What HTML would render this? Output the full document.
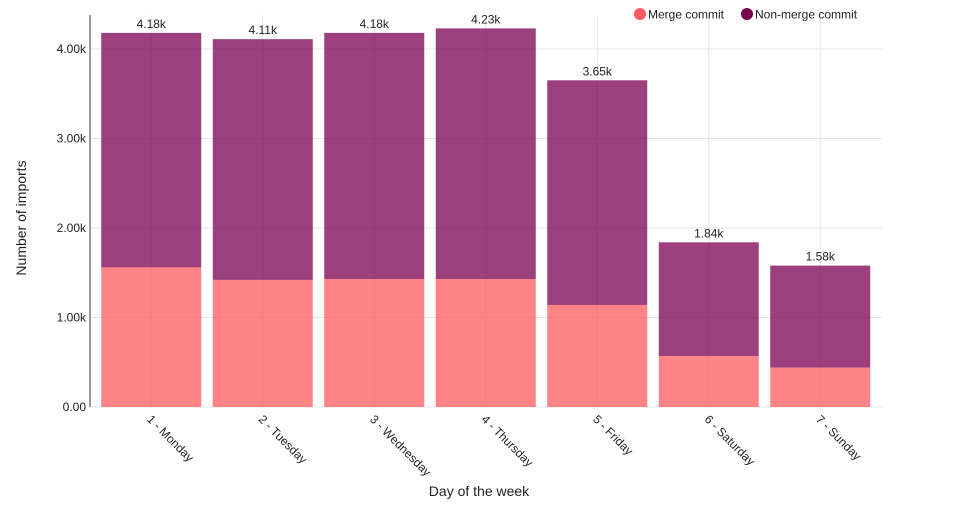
<!DOCTYPE html>
<html><head><meta charset="utf-8"><style>
body{margin:0;background:#fff;font-family:"Liberation Sans",sans-serif;}
text{font-family:"Liberation Sans",sans-serif;}
</style></head><body>
<svg width="972" height="505" xmlns="http://www.w3.org/2000/svg">
<g id="grid"></g>
<g id="bars"></g>
<g id="axes"></g>
<text x="479" y="496" text-anchor="middle" font-size="14" fill="#222">Day of the week</text>
<text transform="translate(26,218) rotate(-90)" text-anchor="middle" font-size="14" fill="#222">Number of imports</text>
<g>
<g><circle cx="640" cy="14" r="6" fill="#ff5a5f"/><text x="648" y="18.5" font-size="12" fill="#222">Merge commit</text></g>
<g><circle cx="747" cy="14" r="6" fill="#7a0050"/><text x="755" y="18.5" font-size="12" fill="#222">Non-merge commit</text></g>
</g>
</svg>
<script>
const categories=["1 - Monday","2 - Tuesday","3 - Wednesday","4 - Thursday","5 - Friday","6 - Saturday","7 - Sunday"];
const mergeValues=[1560,1420,1430,1430,1140,570,440];
const totalValues=[4180,4110,4180,4230,3650,1840,1580];
const totalLabels=["4.18k","4.11k","4.18k","4.23k","3.65k","1.84k","1.58k"];
const yTicks=[0,1000,2000,3000,4000];
const yTickLabels=["0.00","1.00k","2.00k","3.00k","4.00k"];
const NS="http://www.w3.org/2000/svg";
const x0=95.5,step=111.5,barW=100;
function xc(i){return x0+step*(i+0.5);}
function y(v){return 407-v*0.0895;}
function mk(tag,attrs,parent){const e=document.createElementNS(NS,tag);for(const k in attrs)e.setAttribute(k,attrs[k]);parent.appendChild(e);return e;}
const grid=document.getElementById('grid'),bars=document.getElementById('bars'),axes=document.getElementById('axes');
yTicks.forEach((t,i)=>{
 const l=mk('line',{x1:90,x2:882,y1:y(t),y2:y(t),stroke:'#e6e6e6'},grid);
 
 
 const tx=mk('text',{x:86,y:y(t)+4,'text-anchor':'end','font-size':12,fill:'#222'},axes);
 tx.textContent=yTickLabels[i];
 
 
});
categories.forEach((c,i)=>{
 const g=mk('line',{x1:xc(i),x2:xc(i),y1:15,y2:407,stroke:'#e6e6e6'},grid);
 
 
 const nm=mk('rect',{x:xc(i)-barW/2,y:y(totalValues[i]),width:barW,height:y(mergeValues[i])-y(totalValues[i]),fill:'#7a0050','fill-opacity':0.75},bars);
 
 
 const m=mk('rect',{x:xc(i)-barW/2,y:y(mergeValues[i]),width:barW,height:407-y(mergeValues[i]),fill:'#ff5a5f','fill-opacity':0.75},bars);
 
 
 const lb=mk('text',{x:xc(i),y:y(totalValues[i])-5,'text-anchor':'middle','font-size':12,fill:'#222'},bars);
 lb.textContent=totalLabels[i];
 
 
 const xt=mk('text',{transform:`translate(${xc(i)-5},${420}) rotate(45)`,'font-size':12,fill:'#222'},axes);
 xt.textContent=c;
 
 
});
const ax=mk('line',{x1:90,x2:90,y1:15,y2:407,stroke:'#333'},axes);


</script>
</body></html>
